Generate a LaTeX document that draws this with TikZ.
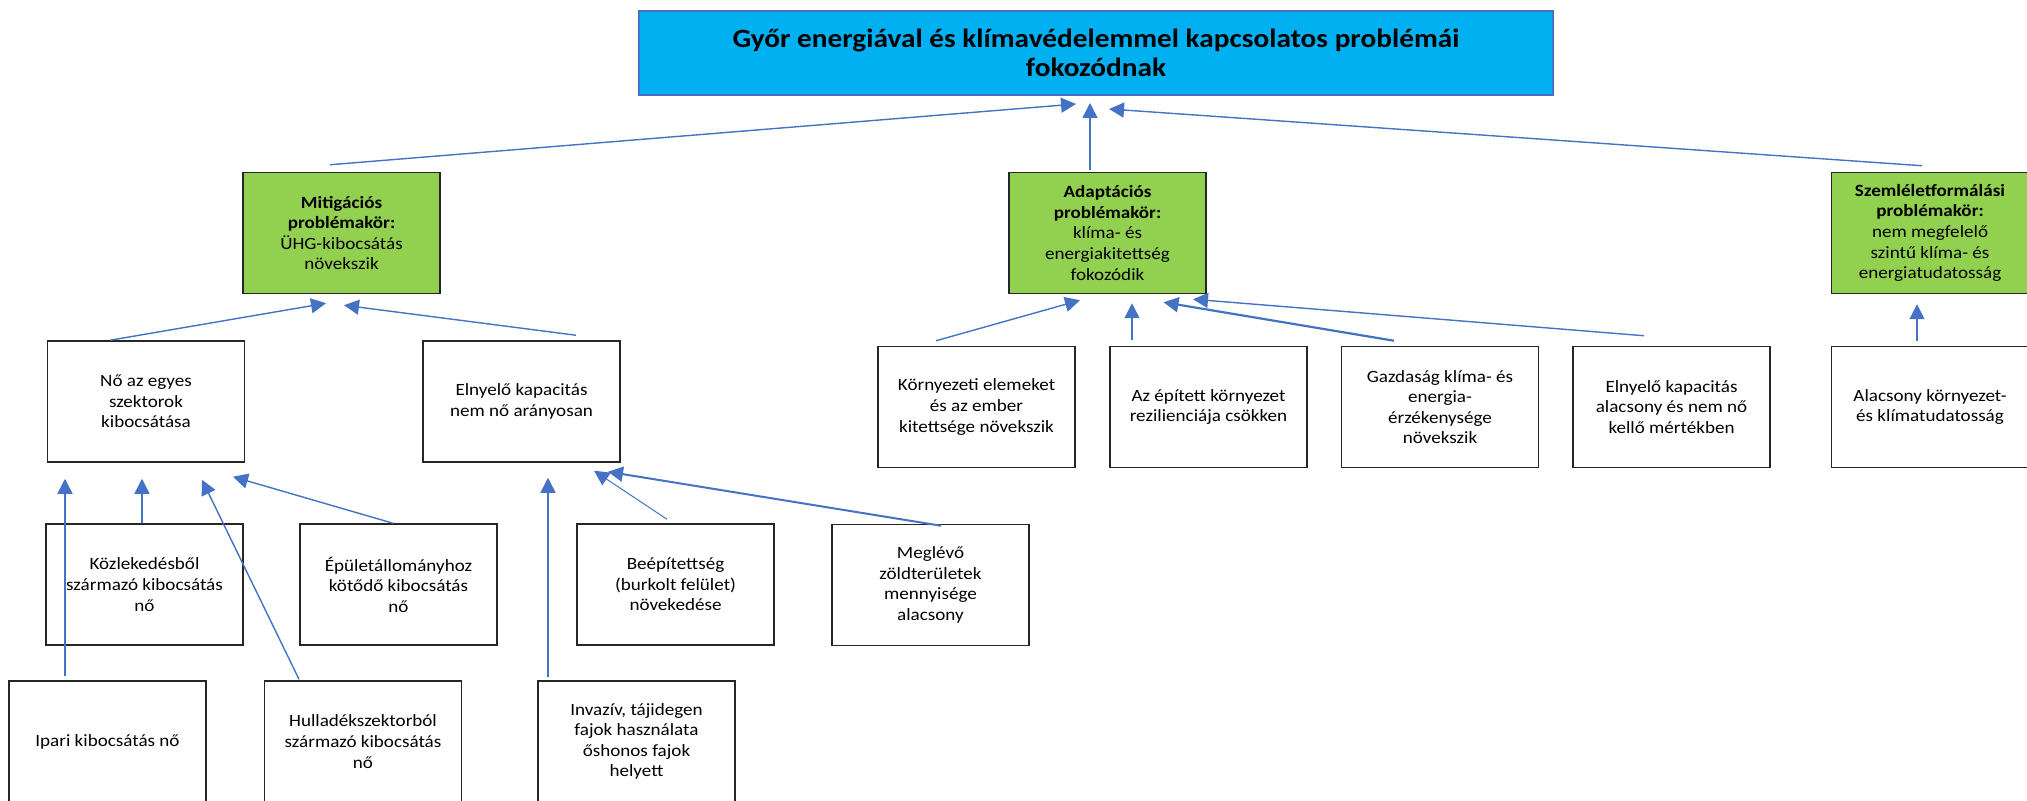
\documentclass[tikz,border=0pt]{standalone}
\usepackage{fontspec}
\setmainfont{Carlito}[FakeStretch=1.11]
\usetikzlibrary{arrows.meta,calc}
\definecolor{nyilkek}{HTML}{4472C4}
\definecolor{zold}{HTML}{92D050}
\definecolor{egkek}{HTML}{00B0F0}
\tikzset{
  doboz/.style={draw=black!85,line width=0.75pt,fill=white,minimum width=98.5pt,
    minimum height=60.5pt,align=center,inner sep=2pt,font=\fontsize{8.6}{10.3}\selectfont},
  zolddoboz/.style={doboz,fill=zold},
  cimdoboz/.style={draw=nyilkek,line width=1pt,fill=egkek,minimum width=457pt,
    minimum height=42pt,align=center,font=\bfseries\fontsize{13.2}{14.5}\selectfont},
  nyil/.style={draw=nyilkek,line width=0.7pt,-{Triangle[length=7.5pt,width=7.5pt]}},
}
\begin{document}
\begin{tikzpicture}[x=0.5pt,y=-0.5pt]
\useasboundingbox (0,0) rectangle (2027,801);
\node[cimdoboz] (cel) at (1096,53) {Győr energiával és klímavédelemmel kapcsolatos problémái\\fokozódnak};
% problemakorok
\node[zolddoboz] (mit) at (341.5,233) {\textbf{Mitigációs}\\\textbf{problémakör:}\\ÜHG-kibocsátás\\növekszik};
\node[zolddoboz] (ada) at (1107.5,233) {\textbf{Adaptációs}\\\textbf{problémakör:}\\klíma- és\\energiakitettség\\fokozódik};
\node[zolddoboz] (szem) at (1930,233) {\textbf{Szemléletformálási}\\\textbf{problémakör:}\\nem megfelelő\\szintű klíma- és\\energiatudatosság};
% masodik sor
\node[doboz] (no) at (146,401.5) {Nő az egyes\\szektorok\\kibocsátása};
\node[doboz] (eln) at (521.5,401.5) {Elnyelő kapacitás\\nem nő arányosan};
\node[doboz] (korny) at (976.5,407) {Környezeti elemeket\\és az ember\\kitettsége növekszik};
\node[doboz] (epit) at (1208.5,407) {Az épített környezet\\rezilienciája csökken};
\node[doboz] (gazd) at (1440,407) {Gazdaság klíma- és\\energia-\\érzékenysége\\növekszik};
\node[doboz] (elnyal) at (1671.5,407) {Elnyelő kapacitás\\alacsony és nem nő\\kellő mértékben};
\node[doboz] (alacs) at (1930,407) {Alacsony környezet-\\és klímatudatosság};
% harmadik sor
\node[doboz] (kozl) at (144.5,584.5) {Közlekedésből\\származó kibocsátás\\nő};
\node[doboz] (epul) at (398.5,584.5) {Épületállományhoz\\kötődő kibocsátás\\nő};
\node[doboz] (beep) at (675.5,584.5) {Beépítettség\\(burkolt felület)\\növekedése};
\node[doboz] (megl) at (930.5,585) {Meglévő\\zöldterületek\\mennyisége\\alacsony};
% negyedik sor
\node[doboz] (ipari) at (107.5,741.5) {Ipari kibocsátás nő};
\node[doboz] (hull) at (363,741.5) {Hulladékszektorból\\származó kibocsátás\\nő};
\node[doboz] (inv) at (636.5,741.5) {Invazív, tájidegen\\fajok használata\\őshonos fajok\\helyett};

\draw[nyil] ($(mit.north)+(-11.5,-7)$) -- ($(cel.south)+(-20,8)$);
\draw[nyil] ($(ada.north)+(-17.5,-2)$) -- ($(cel.south)+(-6,7)$);
\draw[nyil] ($(szem.north)+(-8,-6)$) -- ($(cel.south)+(13,13)$);
\draw[nyil] ($(no.north)+(-36,0)$) -- ($(mit.south)+(-15.5,9)$);
\draw[nyil] ($(eln.north)+(54.5,-5)$) -- ($(mit.south)+(2.5,11)$);
\draw[nyil] ($(korny.north)+(-40.5,-5)$) -- ($(ada.south)+(-27.5,6)$);
\draw[nyil] ($(epit.north)+(-76.5,-6)$) -- ($(ada.south)+(24.5,9)$);
\draw[nyil,line width=1.1pt] ($(gazd.north)+(-46,-5)$) -- ($(ada.south)+(56,8)$);
\draw[nyil] ($(elnyal.north)+(-27.5,-10)$) -- ($(ada.south)+(85.5,5)$);
\draw[nyil] ($(alacs.north)+(-13,-5)$) -- ($(szem.south)+(-13,10)$);
\draw[nyil] ($(kozl.north)+(-2.5,0)$) -- ($(no.south)+(-4,16)$);
\draw[nyil] ($(epul.north)+(-5.5,0)$) -- ($(no.south)+(87,14)$);
\draw[nyil] ($(ipari.north)+(-42.5,-4)$) -- ($(no.south)+(-81,16)$); %kozl dobozon at
\draw[nyil] ($(hull.north)+(-64,-1)$) -- ($(no.south)+(56,17)$);
\draw[nyil,line width=0.5pt] ($(beep.north)+(-8.5,-4)$) -- ($(eln.south)+(72.5,8)$);
\draw[nyil,line width=1pt] ($(megl.north)+(10.5,2)$) -- ($(eln.south)+(86.5,9)$);
\draw[nyil] ($(inv.north)+(-88.5,-3)$) -- ($(eln.south)+(26.5,15)$);
\end{tikzpicture}
\end{document}
